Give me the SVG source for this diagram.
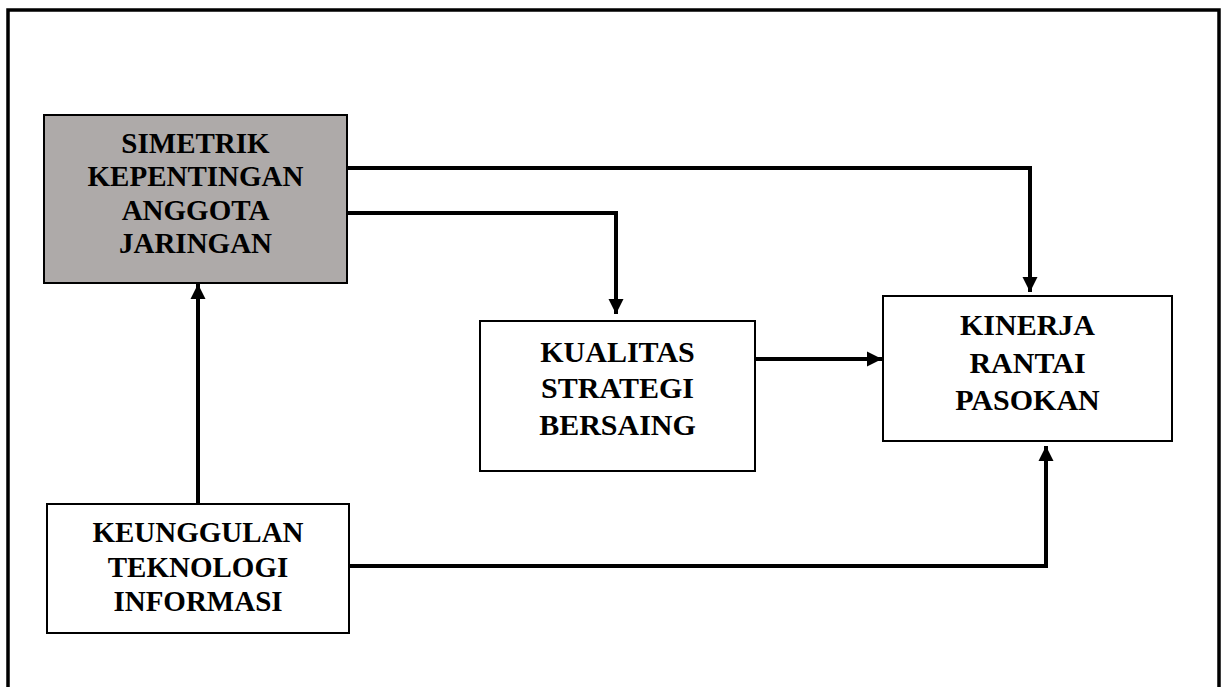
<svg xmlns="http://www.w3.org/2000/svg" width="1226" height="687" viewBox="0 0 1226 687">
  <style>
    .box { fill: #ffffff; stroke: #000000; stroke-width: 2; }
    .shaded { fill: #aeaaa9; stroke: #000000; stroke-width: 2; }
    .label { font-family: "Liberation Serif", "Times New Roman", serif; font-weight: bold; fill: #000000; text-anchor: middle; }
    .edge { fill: none; stroke: #000000; stroke-width: 4; }
    .frame { fill: none; stroke: #000000; stroke-width: 3.5; }
  </style>
  <defs>
    <marker id="arrow" viewBox="0 0 10 10" refX="10" refY="5" markerWidth="3.8" markerHeight="3.8" markerUnits="strokeWidth" orient="auto">
      <path d="M0,0 L10,5 L0,10 Z" fill="#000000"/>
    </marker>
  </defs>

  <rect width="1226" height="687" fill="#ffffff"/>
  <!-- page frame -->
  <rect class="frame" x="8" y="10" width="1211" height="700"/>

  <g id="connectors">
    <!-- simetrik -> kinerja -->
    <polyline class="edge" points="347,168 1030,168 1030,292" marker-end="url(#arrow)"/>
    <!-- simetrik -> kualitas -->
    <polyline class="edge" points="347,213 616,213 616,314" marker-end="url(#arrow)"/>
    <!-- kualitas -> kinerja -->
    <polyline class="edge" points="755,359 882,359" marker-end="url(#arrow)"/>
    <!-- keunggulan -> simetrik -->
    <polyline class="edge" points="198,504 198,284" marker-end="url(#arrow)"/>
    <!-- keunggulan -> kinerja -->
    <polyline class="edge" points="349,566 1046,566 1046,446" marker-end="url(#arrow)"/>
  </g>

  <g id="simetrik">
    <rect class="shaded" x="44" y="115" width="303" height="168"/>
    <text class="label" font-size="29" x="195.5" y="153">SIMETRIK</text>
    <text class="label" font-size="29" x="195.5" y="186">KEPENTINGAN</text>
    <text class="label" font-size="29" x="195.5" y="220">ANGGOTA</text>
    <text class="label" font-size="29" x="195.5" y="253">JARINGAN</text>
  </g>

  <g id="kualitas">
    <rect class="box" x="480" y="321" width="275" height="150"/>
    <text class="label" font-size="30" x="617.5" y="362">KUALITAS</text>
    <text class="label" font-size="30" x="617.5" y="398">STRATEGI</text>
    <text class="label" font-size="30" x="617.5" y="435">BERSAING</text>
  </g>

  <g id="kinerja">
    <rect class="box" x="883" y="296" width="289" height="145"/>
    <text class="label" font-size="30" x="1027.5" y="335">KINERJA</text>
    <text class="label" font-size="30" x="1027.5" y="373">RANTAI</text>
    <text class="label" font-size="30" x="1027.5" y="410">PASOKAN</text>
  </g>

  <g id="keunggulan">
    <rect class="box" x="47" y="504" width="302" height="129"/>
    <text class="label" font-size="29" x="198" y="542">KEUNGGULAN</text>
    <text class="label" font-size="29" x="198" y="577">TEKNOLOGI</text>
    <text class="label" font-size="29" x="198" y="611">INFORMASI</text>
  </g>
</svg>
